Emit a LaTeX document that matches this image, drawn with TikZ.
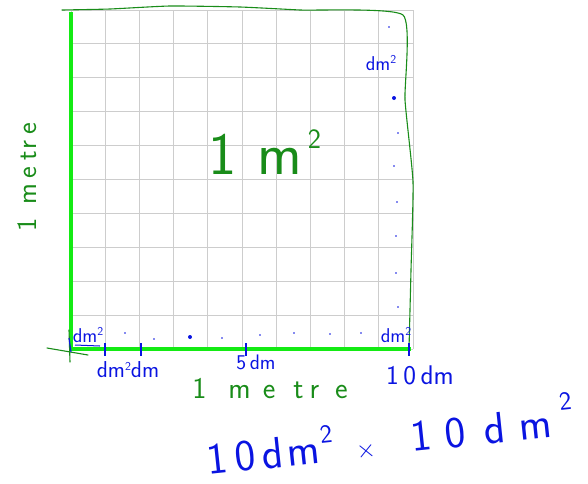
\documentclass[tikz,border=0pt]{standalone}
\usepackage{amsmath}
\usepackage{xcolor}
\usepackage{tikz}
\usetikzlibrary{positioning}
\definecolor{penblue}{RGB}{10,20,225}
\definecolor{pengreen}{RGB}{25,140,25}
\definecolor{axisgreen}{RGB}{20,235,20}
\definecolor{gridgray}{RGB}{205,205,205}
\newcommand{\squared}[2]{\raisebox{#1}{\fontsize{#2}{#2}\selectfont 2}}
\tikzset{
  gridline/.style={gridgray,line width=0.9pt},
  bluenote/.style={penblue,inner sep=0pt,font=\fontsize{20}{22}\selectfont\sffamily},
  bignote/.style={penblue,inner sep=0pt,anchor=base west,rotate=6,font=\fontsize{44}{48}\selectfont\sffamily},
  greennote/.style={pengreen,inner sep=0pt},
  tickmark/.style={penblue,line width=1.2pt},
  pendot/.style={penblue}
}

\begin{document}
\begin{tikzpicture}[x=1pt,y=-1pt]
  \useasboundingbox (0,0) rectangle (588,483);
  % the square metre, cut into 10 x 10
  \foreach \i in {0,...,10} {
    \draw[gridline] ({71+34.2*\i},10) -- ({71+34.2*\i},349);
    \draw[gridline] (71,{10+33.9*\i}) -- (413,{10+33.9*\i});}
  \draw[gridline] (62,10) -- (71,10);
  % sides drawn by hand
  \draw[pengreen,line width=1.1pt,line cap=round,line join=round] plot[smooth,tension=0.3] coordinates
    {(62,10) (110,9) (170,6) (240,7) (300,10) (403,15) (405,100) (413,182) (411,270) (409,349)};
  \draw[axisgreen,line width=4pt] (71,12) -- (71,349) -- (411,349);
  \draw[pengreen,line width=1.1pt,line cap=round] (47,348) -- (88,355);
  \draw[pengreen,line width=1.1pt,line cap=round] (69,330) -- (70,362);
  \draw[penblue,line width=1.1pt] (69,338) -- (71,352);
  % ticks on the bottom side
  \foreach \x in {105,141,246,409}
    \draw[tickmark] (\x,343) -- (\x,356);
  % one dot per square
  \foreach \x/\y in {125/333,154/339,222/338,260/335,294/333,330/334,361/333,
                     389/27,398/133,394/166,397/202,396/236,396/273,398/307}
    \fill[pendot] (\x,\y) circle (0.9pt);
  \fill[pendot] (190,337) circle (2pt);
  \fill[pendot] (394,98) circle (2pt);
  % labels
  \node[bluenote] (dmcorner) at (88,335) {dm\squared{7pt}{12}};
  \draw[penblue,line width=1pt] (75,345) -- (100,346);
  \node[bluenote] (dmright) at (396,335) {dm\squared{7pt}{12}};
  \node[bluenote] (dmtop) at (381,63) {dm\squared{7pt}{12}};
  \node[bluenote,font=\fontsize{23}{24}\selectfont\sffamily] (dmdm) at (128,370) {dm\squared{7pt}{12}dm};
  \node[bluenote,font=\fontsize{21}{22}\selectfont\sffamily] (fivedm) at (256,362) {5\,dm};
  \node[bluenote,font=\fontsize{27}{30}\selectfont\sffamily] (tendm) at (420,375) {1\,0\,dm};
  \node[greennote,font=\fontsize{30}{32}\selectfont\sffamily] (sidex) at (270,389)
    {1\hspace{22pt}m\hspace{12pt}e\hspace{18pt}t\hspace{6pt}r\hspace{16pt}e};
  \node[greennote,font=\fontsize{28}{30}\selectfont\sffamily,rotate=90] (sidey) at (27,177)
    {1\hspace{14pt}m\hspace{5pt}e\hspace{6pt}t\hspace{2pt}r\hspace{6pt}e};
  \node[greennote,font=\fontsize{60}{64}\selectfont\sffamily] (area) at (265,152)
    {1\hspace{20pt}m\hspace{6pt}\squared{26pt}{28}};
  % the product, written on a slant
  \node[bignote] (prodleft) at (208,475) {1\hspace{8pt}0\hspace{6pt}d\hspace{4pt}m\hspace{2pt}\squared{20pt}{26}};
  \node[bignote] (timessign) at (357,459) {$\times$};
  \node[bignote] (prodright) at (412,452)
    {1\hspace{14pt}0\hspace{18pt}d\hspace{14pt}m\hspace{10pt}\squared{26pt}{26}};
\end{tikzpicture}
\end{document}
